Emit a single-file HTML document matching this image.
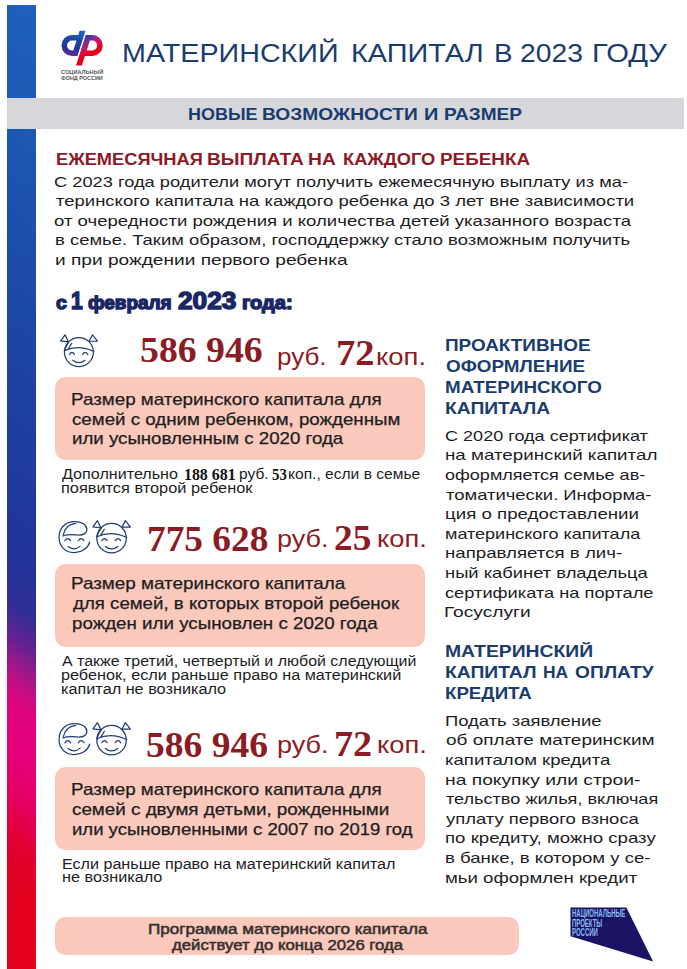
<!DOCTYPE html>
<html><head><meta charset="utf-8"><title>Материнский капитал в 2023 году</title>
<style>
html,body{margin:0;padding:0;background:#fff}
body{width:687px;height:969px;position:relative;overflow:hidden;font-family:"Liberation Sans",sans-serif}
.t{position:absolute;white-space:pre;line-height:1;transform-origin:0 0;margin:0}
.bx{position:absolute;background:#fbc9bb;border-radius:10.5px}
svg{position:absolute;overflow:visible}
</style></head><body>
<svg style="left:7px;top:5px" width="29" height="964" viewBox="7 5 29 964"><defs><linearGradient id="bar" gradientUnits="userSpaceOnUse" x1="21.5" y1="5" x2="-431.7" y2="651.7">
<stop offset="0" stop-color="#1e60ba"/><stop offset=".13" stop-color="#1d58b3"/><stop offset=".306" stop-color="#1c49a6"/><stop offset=".4616" stop-color="#1e3d9e"/><stop offset=".5757" stop-color="#233399"/><stop offset="0.6255" stop-color="#2e2e97"/><stop offset="0.6587" stop-color="#5f2392"/><stop offset="0.6846" stop-color="#931a8b"/><stop offset="0.7075" stop-color="#c20e85"/><stop offset="0.7293" stop-color="#df057f"/><stop offset="0.7832" stop-color="#e6007b"/><stop offset="0.8299" stop-color="#e4005c"/><stop offset="0.8714" stop-color="#e20033"/><stop offset="0.9129" stop-color="#e2001f"/><stop offset="1" stop-color="#e2001c"/>
</linearGradient></defs><rect x="7" y="5" width="29" height="964" fill="url(#bar)"/></svg>
<div style="position:absolute;left:7px;top:98px;width:677px;height:31px;background:#d6d7db"></div>
<div class="bx" style="left:54.6px;top:377.2px;width:370.8px;height:83px"></div>
<div class="bx" style="left:54.6px;top:563.8px;width:370.8px;height:82.9px"></div>
<div class="bx" style="left:54.6px;top:767px;width:370.8px;height:82.8px"></div>
<div class="bx" style="left:54.6px;top:916.5px;width:464.4px;height:38.8px;border-radius:10.5px"></div>

<svg style="left:58px;top:28px" width="48" height="40" viewBox="0 0 687 572">
<defs>
<clipPath id="lc"><rect x="0" y="38" width="687" height="497"/></clipPath>
<linearGradient id="gb" gradientUnits="userSpaceOnUse" x1="330" y1="40" x2="250" y2="420"><stop offset="0" stop-color="#1f6cc2"/><stop offset=".35" stop-color="#1c47a6"/><stop offset=".75" stop-color="#24349a"/><stop offset="1" stop-color="#7a2890"/></linearGradient>
<linearGradient id="gr" gradientUnits="userSpaceOnUse" x1="400" y1="120" x2="520" y2="330"><stop offset="0" stop-color="#2b3fa4"/><stop offset=".3" stop-color="#7a2c9c"/><stop offset=".55" stop-color="#c4186a"/><stop offset=".8" stop-color="#e20a30"/><stop offset="1" stop-color="#e3001e"/></linearGradient>
</defs>
<g fill="none" stroke-width="80" stroke-linejoin="miter" clip-path="url(#lc)">
<path d="M364.8 -2 L249 360 H200 A110 110 0 0 1 200 140 H319.4" stroke="url(#gb)"/>
<path d="M287.2 575 L426.4 140 H490 A110 110 0 0 1 490 360 H356" stroke="url(#gr)"/>
</g>
</svg>

<svg style="left:52px;top:326px" width="56" height="48" viewBox="0 0 687 589"><g fill="none" stroke="#1f3d73" stroke-width="15" stroke-linecap="round" stroke-linejoin="round">
<circle cx="330" cy="320" r="178"/>
<path d="M105 182 L160 108 L203 196 Z"/>
<path d="M455 187 L497 108 L558 185 Z"/>
<path d="M152 302 Q330 225 512 312"/>
<path d="M243 212 L200 282"/>
<path d="M203 200 Q170 250 152 302"/>
<path d="M213 350 Q245 300 277 350"/>
<path d="M375 350 Q407 300 440 350"/>
<path d="M255 420 Q330 478 405 420"/>
</g></svg>
<svg style="left:52px;top:510px" width="88" height="50" viewBox="0 0 687 390"><g fill="none" stroke="#1f3d73" stroke-width="9.5" stroke-linecap="round" stroke-linejoin="round">
<path d="M295 250 C280 300 230 335 170 333 C100 330 55 280 55 215 C55 140 105 90 175 90 C235 90 272 115 272 150 C272 185 240 197 205 195 C165 192 125 185 85 203"/>
<path d="M88 195 C95 150 130 108 185 106"/>
<path d="M100 240 Q122 208 146 240"/>
<path d="M205 240 Q227 208 250 240"/>
<path d="M125 285 Q172 322 220 282"/>
</g><g transform="translate(251.8,13.3) scale(0.646)"><g fill="none" stroke="#1f3d73" stroke-width="15" stroke-linecap="round" stroke-linejoin="round">
<circle cx="330" cy="320" r="178"/>
<path d="M105 182 L160 108 L203 196 Z"/>
<path d="M455 187 L497 108 L558 185 Z"/>
<path d="M152 302 Q330 225 512 312"/>
<path d="M243 212 L200 282"/>
<path d="M203 200 Q170 250 152 302"/>
<path d="M213 350 Q245 300 277 350"/>
<path d="M375 350 Q407 300 440 350"/>
<path d="M255 420 Q330 478 405 420"/>
</g></g></svg>
<svg style="left:52px;top:712.3px" width="88" height="50" viewBox="0 0 687 390"><g fill="none" stroke="#1f3d73" stroke-width="9.5" stroke-linecap="round" stroke-linejoin="round">
<path d="M295 250 C280 300 230 335 170 333 C100 330 55 280 55 215 C55 140 105 90 175 90 C235 90 272 115 272 150 C272 185 240 197 205 195 C165 192 125 185 85 203"/>
<path d="M88 195 C95 150 130 108 185 106"/>
<path d="M100 240 Q122 208 146 240"/>
<path d="M205 240 Q227 208 250 240"/>
<path d="M125 285 Q172 322 220 282"/>
</g><g transform="translate(251.8,13.3) scale(0.646)"><g fill="none" stroke="#1f3d73" stroke-width="15" stroke-linecap="round" stroke-linejoin="round">
<circle cx="330" cy="320" r="178"/>
<path d="M105 182 L160 108 L203 196 Z"/>
<path d="M455 187 L497 108 L558 185 Z"/>
<path d="M152 302 Q330 225 512 312"/>
<path d="M243 212 L200 282"/>
<path d="M203 200 Q170 250 152 302"/>
<path d="M213 350 Q245 300 277 350"/>
<path d="M375 350 Q407 300 440 350"/>
<path d="M255 420 Q330 478 405 420"/>
</g></g></svg>
<svg style="left:550px;top:890px" width="137" height="79" viewBox="0 0 137 79">
<polygon points="20.5,17.5 76.4,17.5 103.1,71.4 20.5,46.3" fill="#1b1464"/>
</svg>
<div class="t" style="left:571.5px;top:908.6px;font-size:22px;font-weight:bold;color:#8bbdf2;transform:scale(0.272,0.5);line-height:18.6px">НАЦИОНАЛЬНЫЕ<br>ПРОЕКТЫ<br>РОССИИ</div>


<div class="t" style="left:121.71px;top:41.10px;font-size:25.87px;color:#1a3c6e;transform:scale(1.1092,1.0000)">МАТЕРИНСКИЙ</div>
<div class="t" style="left:350.88px;top:41.10px;font-size:25.87px;color:#1a3c6e;transform:scale(1.1153,1.0000)">КАПИТАЛ</div>
<div class="t" style="left:494.25px;top:41.10px;font-size:25.87px;color:#1a3c6e;transform:scale(1.0748,1.0000)">В</div>
<div class="t" style="left:520.17px;top:41.10px;font-size:25.87px;color:#1a3c6e;transform:scale(1.0928,1.0000)">2023</div>
<div class="t" style="left:592.24px;top:41.10px;font-size:25.87px;color:#1a3c6e;transform:scale(1.1275,1.0000)">ГОДУ</div>
<div class="t" style="left:188.28px;top:107.47px;font-size:15.99px;color:#1a3c6e;transform:scale(1.1252,1.0000);font-weight:bold">НОВЫЕ</div>
<div class="t" style="left:262.24px;top:107.47px;font-size:15.99px;color:#1a3c6e;transform:scale(1.1986,1.0000);font-weight:bold">ВОЗМОЖНОСТИ</div>
<div class="t" style="left:423.76px;top:107.47px;font-size:15.99px;color:#1a3c6e;transform:scale(1.2492,1.0000);font-weight:bold">И</div>
<div class="t" style="left:443.62px;top:107.47px;font-size:15.99px;color:#1a3c6e;transform:scale(1.1913,1.0000);font-weight:bold">РАЗМЕР</div>
<div class="t" style="left:55.57px;top:150.94px;font-size:16.13px;color:#8e1824;transform:scale(1.1330,1.0000);font-weight:bold">ЕЖЕМЕСЯЧНАЯ</div>
<div class="t" style="left:207.19px;top:150.94px;font-size:16.13px;color:#8e1824;transform:scale(1.1864,1.0000);font-weight:bold">ВЫПЛАТА</div>
<div class="t" style="left:308.45px;top:150.94px;font-size:16.13px;color:#8e1824;transform:scale(1.1938,1.0000);font-weight:bold">НА</div>
<div class="t" style="left:342.79px;top:150.94px;font-size:16.13px;color:#8e1824;transform:scale(1.1326,1.0000);font-weight:bold">КАЖДОГО</div>
<div class="t" style="left:440.46px;top:150.94px;font-size:16.13px;color:#8e1824;transform:scale(1.1708,1.0000);font-weight:bold">РЕБЕНКА</div>
<div class="t" style="left:54.12px;top:173.76px;font-size:15.41px;color:#1d1d1f;transform:scale(1.1849,1.0000)">С 2023 года родители могут получить ежемесячную выплату из ма-</div>
<div class="t" style="left:55.58px;top:193.16px;font-size:15.41px;color:#1d1d1f;transform:scale(1.2000,1.0000)">теринского капитала на каждого ребенка до 3 лет вне зависимости</div>
<div class="t" style="left:54.40px;top:212.66px;font-size:15.41px;color:#1d1d1f;transform:scale(1.2047,1.0000)">от очередности рождения и количества детей указанного возраста</div>
<div class="t" style="left:54.76px;top:232.16px;font-size:15.41px;color:#1d1d1f;transform:scale(1.1964,1.0000)">в семье. Таким образом, господдержку стало возможным получить</div>
<div class="t" style="left:54.72px;top:251.66px;font-size:15.41px;color:#1d1d1f;transform:scale(1.2397,1.0000)">и при рождении первого ребенка</div>
<div class="t" style="left:71.39px;top:391.71px;font-size:15.70px;color:#1d1d1f;transform:scale(1.1979,1.0000);-webkit-text-stroke:0.25px #1d1d1f">Размер материнского капитала для</div>
<div class="t" style="left:72.33px;top:411.51px;font-size:15.70px;color:#1d1d1f;transform:scale(1.1928,1.0000);-webkit-text-stroke:0.25px #1d1d1f">семей с одним ребенком, рожденным</div>
<div class="t" style="left:71.54px;top:430.81px;font-size:15.70px;color:#1d1d1f;transform:scale(1.1898,1.0000);-webkit-text-stroke:0.25px #1d1d1f">или усыновленным с 2020 года</div>
<div class="t" style="left:71.39px;top:576.01px;font-size:15.70px;color:#1d1d1f;transform:scale(1.2017,1.0000);-webkit-text-stroke:0.25px #1d1d1f">Размер материнского капитала</div>
<div class="t" style="left:72.51px;top:595.81px;font-size:15.70px;color:#1d1d1f;transform:scale(1.1898,1.0000);-webkit-text-stroke:0.25px #1d1d1f">для семей, в которых второй ребенок</div>
<div class="t" style="left:71.60px;top:616.31px;font-size:15.70px;color:#1d1d1f;transform:scale(1.1947,1.0000);-webkit-text-stroke:0.25px #1d1d1f">рожден или усыновлен с 2020 года</div>
<div class="t" style="left:71.39px;top:781.81px;font-size:15.70px;color:#1d1d1f;transform:scale(1.1979,1.0000);-webkit-text-stroke:0.25px #1d1d1f">Размер материнского капитала для</div>
<div class="t" style="left:72.31px;top:801.91px;font-size:15.70px;color:#1d1d1f;transform:scale(1.1991,1.0000);-webkit-text-stroke:0.25px #1d1d1f">семей с двумя детьми, рожденными</div>
<div class="t" style="left:71.60px;top:821.71px;font-size:15.70px;color:#1d1d1f;transform:scale(1.1792,1.0000);-webkit-text-stroke:0.25px #1d1d1f">или усыновленными с 2007 по 2019 год</div>
<div class="t" style="left:62.16px;top:467.81px;font-size:13.81px;color:#1d1d1f;transform:scale(1.1677,1.0000)">Дополнительно</div>
<div class="t" style="left:238.66px;top:467.81px;font-size:13.81px;color:#1d1d1f;transform:scale(1.1244,1.0000)">руб.</div>
<div class="t" style="left:287.76px;top:467.81px;font-size:13.81px;color:#1d1d1f;transform:scale(1.1291,1.0000)">коп., если в семье</div>
<div class="t" style="left:60.54px;top:481.51px;font-size:13.81px;color:#1d1d1f;transform:scale(1.1839,1.0000)">появится второй ребенок</div>
<div class="t" style="left:184.15px;top:466.97px;font-size:16.27px;color:#111;transform:scale(0.9759,1.0000);font-weight:bold;font-family:'Liberation Serif', serif">188 681</div>
<div class="t" style="left:272.11px;top:466.97px;font-size:16.27px;color:#111;transform:scale(0.9091,1.0000);font-weight:bold;font-family:'Liberation Serif', serif">53</div>
<div class="t" style="left:62.16px;top:654.71px;font-size:13.81px;color:#1d1d1f;transform:scale(1.1566,1.0000)">А также третий, четвертый и любой следующий</div>
<div class="t" style="left:60.59px;top:669.31px;font-size:13.81px;color:#1d1d1f;transform:scale(1.1765,1.0000)">ребенок, если раньше право на материнский</div>
<div class="t" style="left:60.59px;top:682.91px;font-size:13.81px;color:#1d1d1f;transform:scale(1.1774,1.0000)">капитал не возникало</div>
<div class="t" style="left:61.80px;top:858.21px;font-size:13.81px;color:#1d1d1f;transform:scale(1.1666,1.0000)">Если раньше право на материнский капитал</div>
<div class="t" style="left:61.91px;top:870.81px;font-size:13.81px;color:#1d1d1f;transform:scale(1.1753,1.0000)">не возникало</div>
<div class="t" style="left:147.56px;top:923.19px;font-size:13.95px;color:#35302e;transform:scale(1.2263,1.0000);-webkit-text-stroke:0.5px #35302e">Программа материнского капитала</div>
<div class="t" style="left:171.57px;top:938.59px;font-size:13.95px;color:#35302e;transform:scale(1.2002,1.0000);-webkit-text-stroke:0.5px #35302e">действует до конца 2026 года</div>
<div class="t" style="left:445.45px;top:337.22px;font-size:16.28px;color:#1a3c6e;transform:scale(1.1620,1.0000);font-weight:bold">ПРОАКТИВНОЕ</div>
<div class="t" style="left:445.95px;top:358.22px;font-size:16.28px;color:#1a3c6e;transform:scale(1.1601,1.0000);font-weight:bold">ОФОРМЛЕНИЕ</div>
<div class="t" style="left:445.46px;top:379.32px;font-size:16.28px;color:#1a3c6e;transform:scale(1.1568,1.0000);font-weight:bold">МАТЕРИНСКОГО</div>
<div class="t" style="left:445.44px;top:400.02px;font-size:16.28px;color:#1a3c6e;transform:scale(1.1846,1.0000);font-weight:bold">КАПИТАЛА</div>
<div class="t" style="left:445.44px;top:643.12px;font-size:16.28px;color:#1a3c6e;transform:scale(1.1881,1.0000);font-weight:bold">МАТЕРИНСКИЙ</div>
<div class="t" style="left:445.46px;top:684.82px;font-size:16.28px;color:#1a3c6e;transform:scale(1.1490,1.0000);font-weight:bold">КРЕДИТА</div>
<div class="t" style="left:445.45px;top:664.02px;font-size:16.28px;color:#1a3c6e;transform:scale(1.1862,1.0000);font-weight:bold">КАПИТАЛ</div>
<div class="t" style="left:543.48px;top:664.02px;font-size:16.28px;color:#1a3c6e;transform:scale(1.0694,1.0000);font-weight:bold">НА</div>
<div class="t" style="left:574.66px;top:664.02px;font-size:16.28px;color:#1a3c6e;transform:scale(1.1767,1.0000);font-weight:bold">ОПЛАТУ</div>
<div class="t" style="left:445.44px;top:428.43px;font-size:15.55px;color:#1d1d1f;transform:scale(1.1613,1.0000)">С 2020 года сертификат</div>
<div class="t" style="left:445.18px;top:447.33px;font-size:15.55px;color:#1d1d1f;transform:scale(1.2073,1.0000)">на материнский капитал</div>
<div class="t" style="left:444.82px;top:466.73px;font-size:15.55px;color:#1d1d1f;transform:scale(1.1589,1.0000)">оформляется семье ав-</div>
<div class="t" style="left:446.00px;top:486.53px;font-size:15.55px;color:#1d1d1f;transform:scale(1.1851,1.0000)">томатически. Информа-</div>
<div class="t" style="left:445.18px;top:506.03px;font-size:15.55px;color:#1d1d1f;transform:scale(1.2026,1.0000)">ция о предоставлении</div>
<div class="t" style="left:445.20px;top:525.83px;font-size:15.55px;color:#1d1d1f;transform:scale(1.1590,1.0000)">материнского капитала</div>
<div class="t" style="left:445.18px;top:545.33px;font-size:15.55px;color:#1d1d1f;transform:scale(1.2011,1.0000)">направляется в лич-</div>
<div class="t" style="left:445.18px;top:565.13px;font-size:15.55px;color:#1d1d1f;transform:scale(1.1803,1.0000)">ный кабинет владельца</div>
<div class="t" style="left:444.82px;top:584.63px;font-size:15.55px;color:#1d1d1f;transform:scale(1.1737,1.0000)">сертификата на портале</div>
<div class="t" style="left:444.39px;top:603.63px;font-size:15.55px;color:#1d1d1f;transform:scale(1.2328,1.0000)">Госуслуги</div>
<div class="t" style="left:444.59px;top:712.63px;font-size:15.55px;color:#1d1d1f;transform:scale(1.1848,1.0000)">Подать заявление</div>
<div class="t" style="left:445.66px;top:732.13px;font-size:15.55px;color:#1d1d1f;transform:scale(1.2221,1.0000)">об оплате материнским</div>
<div class="t" style="left:445.20px;top:751.53px;font-size:15.55px;color:#1d1d1f;transform:scale(1.1933,1.0000)">капиталом кредита</div>
<div class="t" style="left:445.14px;top:772.43px;font-size:15.55px;color:#1d1d1f;transform:scale(1.2388,1.0000)">на покупку или строи-</div>
<div class="t" style="left:446.00px;top:790.83px;font-size:15.55px;color:#1d1d1f;transform:scale(1.1640,1.0000)">тельство жилья, включая</div>
<div class="t" style="left:446.00px;top:810.63px;font-size:15.55px;color:#1d1d1f;transform:scale(1.1864,1.0000)">уплату первого взноса</div>
<div class="t" style="left:445.18px;top:830.13px;font-size:15.55px;color:#1d1d1f;transform:scale(1.1988,1.0000)">по кредиту, можно сразу</div>
<div class="t" style="left:445.18px;top:849.93px;font-size:15.55px;color:#1d1d1f;transform:scale(1.1942,1.0000)">в банке, в котором у се-</div>
<div class="t" style="left:445.18px;top:870.43px;font-size:15.55px;color:#1d1d1f;transform:scale(1.1975,1.0000)">мьи оформлен кредит</div>
<div class="t" style="left:56.02px;top:293.57px;font-size:18.94px;color:#1a2766;transform:scale(1.0251,1.0000);font-weight:bold;-webkit-text-stroke:1.4px #1a2766">с</div>
<div class="t" style="left:71.18px;top:289.42px;font-size:23.84px;color:#1a2766;transform:scale(0.8810,1.0000);font-weight:bold;-webkit-text-stroke:1.4px #1a2766">1</div>
<div class="t" style="left:88.49px;top:293.57px;font-size:18.94px;color:#1a2766;transform:scale(0.9998,1.0000);font-weight:bold;-webkit-text-stroke:1.4px #1a2766">февраля</div>
<div class="t" style="left:178.22px;top:289.42px;font-size:23.84px;color:#1a2766;transform:scale(1.1005,1.0000);font-weight:bold;-webkit-text-stroke:1.4px #1a2766">2023</div>
<div class="t" style="left:242.25px;top:293.57px;font-size:18.94px;color:#1a2766;transform:scale(1.0574,1.0000);font-weight:bold;-webkit-text-stroke:1.4px #1a2766">года:</div>
<div class="t" style="left:61.21px;top:69.69px;font-size:20.35px;color:#55565a;transform:scale(0.2764,0.2500);font-weight:bold">СОЦИАЛЬНЫЙ</div>
<div class="t" style="left:61.21px;top:75.69px;font-size:20.35px;color:#55565a;transform:scale(0.2681,0.2500);font-weight:bold">ФОНД РОССИИ</div>
<div class="t" style="left:139.69px;top:332.05px;font-size:36.24px;color:#8c1c24;transform:scale(1.0419,1.0000);font-weight:bold;font-family:'Liberation Serif', serif">586 946</div>
<div class="t" style="left:276.61px;top:345.96px;font-size:23.67px;color:#8c1c24;transform:scale(1.0982,1.0000)">руб.</div>
<div class="t" style="left:335.80px;top:336.27px;font-size:35.50px;color:#8c1c24;transform:scale(1.0876,1.0000);font-weight:bold;font-family:'Liberation Serif', serif">72</div>
<div class="t" style="left:375.91px;top:345.96px;font-size:23.67px;color:#8c1c24;transform:scale(1.1593,1.0000)">коп.</div>
<div class="t" style="left:146.66px;top:521.45px;font-size:36.24px;color:#8c1c24;transform:scale(1.0307,1.0000);font-weight:bold;font-family:'Liberation Serif', serif">775 628</div>
<div class="t" style="left:276.77px;top:528.26px;font-size:23.67px;color:#8c1c24;transform:scale(1.1414,1.0000)">руб.</div>
<div class="t" style="left:334.23px;top:520.57px;font-size:35.50px;color:#8c1c24;transform:scale(1.0505,1.0000);font-weight:bold;font-family:'Liberation Serif', serif">25</div>
<div class="t" style="left:377.13px;top:528.26px;font-size:23.67px;color:#8c1c24;transform:scale(1.1520,1.0000)">коп.</div>
<div class="t" style="left:146.49px;top:727.25px;font-size:36.24px;color:#8c1c24;transform:scale(1.0353,1.0000);font-weight:bold;font-family:'Liberation Serif', serif">586 946</div>
<div class="t" style="left:276.77px;top:734.26px;font-size:23.67px;color:#8c1c24;transform:scale(1.1414,1.0000)">руб.</div>
<div class="t" style="left:333.66px;top:727.07px;font-size:35.50px;color:#8c1c24;transform:scale(1.0743,1.0000);font-weight:bold;font-family:'Liberation Serif', serif">72</div>
<div class="t" style="left:377.13px;top:734.26px;font-size:23.67px;color:#8c1c24;transform:scale(1.1520,1.0000)">коп.</div>
</body></html>
